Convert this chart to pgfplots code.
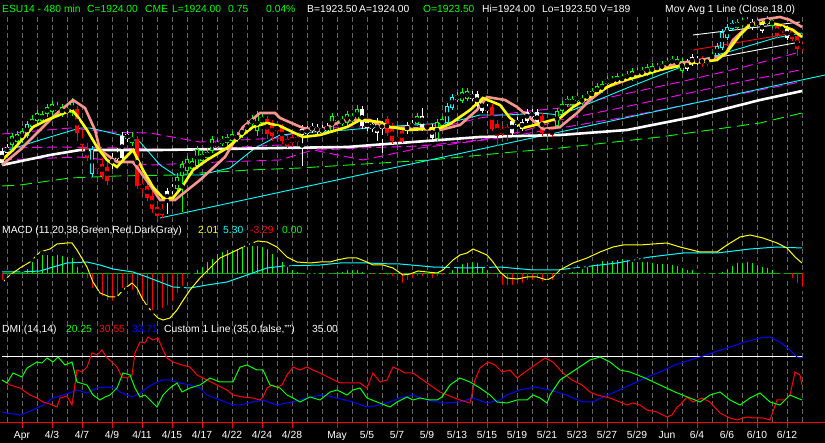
\documentclass[border=0pt]{standalone}
\usepackage{pgfplots}
\pgfplotsset{compat=1.18}
\usepackage{pgfplotstable}
\usepackage{fontspec}
\setmainfont{Liberation Sans}

\definecolor{salmon}{RGB}{250,150,140}
\definecolor{gridgray}{RGB}{100,100,100}
\definecolor{zgreen}{RGB}{0,180,0}
\definecolor{cy}{RGB}{0,255,255}
\definecolor{yl}{RGB}{255,255,0}
\definecolor{mg}{RGB}{255,0,255}
\definecolor{gr}{RGB}{0,255,0}
\definecolor{rd}{RGB}{255,0,0}
\definecolor{bl}{RGB}{0,0,255}

% candles, pixel units of the screen (y grows downward): x, wick top, wick bottom, body top, body bottom
\pgfplotstableread{
x wt wb bt bb
12 133 148 136 145
17 131 145 134 142
22 128 143 131 140
32 115 129 119 127
37 110 124 113 121
42 111 123 114 121
47 104 117 107 114
52 101 115 104 112
57 102 113 106 111
62 104 117 107 115
67 105 115 108 113
72 98 116 102 113
132 132 146 137 143
177 173 193 177 189
182 161 212 164 176
187 156 173 159 171
192 158 171 161 169
197 146 169 149 166
202 150 163 154 161
207 148 161 152 158
212 136 153 139 151
217 139 149 142 147
222 136 146 139 144
227 134 146 137 143
232 131 144 134 141
237 132 142 135 140
242 126 138 129 136
247 120 133 124 131
252 115 128 119 124
257 111 136 115 131
262 113 125 117 123
332 113 133 116 131
337 113 123 116 121
342 116 126 119 124
347 111 126 114 123
352 113 123 116 121
357 105 123 109 121
417 113 126 116 124
437 119 141 122 139
442 116 128 119 126
462 88 103 92 101
467 88 101 91 99
557 108 129 111 126
562 101 113 104 111
567 96 107 99 105
572 96 107 99 105
577 93 103 96 101
582 95 105 98 103
587 91 101 94 99
592 88 99 91 97
597 83 96 86 94
602 81 93 84 91
607 76 86 79 84
612 76 85 79 83
617 73 85 76 83
622 74 83 77 81
627 71 81 74 79
632 68 81 71 79
637 68 77 71 75
642 67 77 70 75
647 64 76 67 74
652 63 75 66 73
657 63 72 66 70
662 61 71 64 69
667 58 68 61 66
672 56 66 59 64
677 56 68 59 66
682 58 73 61 71
712 52 61 55 59
737 19 30 22 28
742 18 27 21 25
747 17 26 20 24
757 18 27 21 25
767 16 26 19 24
772 17 28 20 26
}\greenc

\pgfplotstableread{
x wt wb bt bb
77 106 141 109 133
82 130 151 139 145
87 143 161 149 158
97 158 173 164 169
102 158 179 164 176
107 161 185 167 181
137 136 189 139 186
142 180 193 184 189
147 182 201 186 198
152 191 213 196 209
157 203 219 207 216
162 204 218 209 215
267 116 139 119 134
272 120 141 124 136
277 123 133 126 131
282 124 144 127 141
287 135 148 139 146
292 134 147 137 143
297 133 146 137 142
387 116 136 119 133
392 123 144 127 141
397 134 144 137 142
402 128 143 131 141
427 121 133 124 131
492 104 131 107 129
497 120 146 124 136
502 126 136 129 134
507 124 141 127 132
542 113 136 116 133
547 126 136 129 134
552 127 137 130 135
702 56 67 59 64
707 57 66 60 64
777 23 38 26 36
782 24 33 27 31
792 28 41 31 39
797 33 56 36 49
802 42 51 45 49
}\redc

\pgfplotstableread{
x wt wb bt bb
2 148 166 151 163
7 144 155 147 153
112 153 169 159 164
117 148 161 154 159
122 132 161 136 158
127 131 142 134 139
167 188 214 191 201
172 184 194 187 191
302 125 166 129 135
307 126 136 129 134
312 123 133 126 131
317 124 134 127 132
322 125 135 128 133
327 123 133 126 131
362 106 129 109 126
367 119 131 122 128
372 121 132 124 129
377 118 141 121 133
382 121 153 124 129
407 122 134 125 131
412 120 130 123 128
422 108 131 116 128
432 124 141 127 138
472 91 101 94 99
477 91 108 94 106
482 98 113 101 111
487 104 113 107 111
512 118 136 121 133
517 117 127 120 125
522 119 131 122 129
527 109 123 112 121
532 109 119 112 117
537 109 126 112 124
687 59 71 62 69
692 54 66 57 64
697 56 65 59 63
752 19 30 22 28
762 21 33 24 31
787 26 40 29 38
}\whitec

\pgfplotstableread{
x wt wb bt bb
27 121 138 124 136
92 146 177 149 174
447 103 125 106 123
452 94 110 97 108
457 92 102 95 100
717 43 58 46 56
722 29 50 32 48
727 24 40 27 38
732 20 31 23 29
}\cyanc

% MACD histogram, bar ends (zero line at 273)
\pgfplotstableread{
x y
22 270
27 267
32 260
37 257
42 253
47 253
52 254
57 253
62 254
67 255
72 256
77 265
82 270
197 268
202 265
207 260
212 257
217 252
222 250
227 248
232 248
237 247
242 245
247 245
252 244
257 244
262 245
267 247
272 252
277 255
282 260
287 265
292 268
297 270
302 271
307 272
312 272
317 272
322 271
327 272
332 271
337 270
342 270
347 268
352 268
357 268
362 270
367 272
447 272
452 268
457 265
462 262
467 261
472 260
477 261
482 265
487 268
562 272
567 272
572 270
577 270
582 267
587 265
592 263
597 262
602 259
607 259
612 259
617 258
622 257
627 258
632 260
637 260
642 260
647 260
652 261
657 262
662 262
667 262
672 263
677 264
682 266
687 268
692 268
697 271
702 272
707 272
717 272
722 270
727 267
732 264
737 261
742 261
747 260
752 261
757 263
762 265
767 266
772 268
777 271
}\histup

\pgfplotstableread{
x y
2 282
7 280
12 276
87 280
92 290
97 293
102 298
107 302
112 303
117 298
122 290
127 289
132 292
137 297
142 303
147 307
152 312
157 312
162 310
167 307
172 303
177 295
182 288
187 280
192 275
372 276
377 275
382 276
387 277
392 278
397 282
402 285
407 282
412 280
417 278
422 278
427 280
432 280
437 278
442 277
492 276
497 280
502 287
507 287
512 287
517 286
522 285
527 282
532 282
537 280
542 283
547 282
552 282
557 276
782 275
787 276
792 280
797 285
802 289
}\histdn

\begin{document}
\begin{tikzpicture}[lab/.style={font=\fontsize{10.3}{12}\selectfont, inner sep=0pt}]
\fill[black] (0,0) rectangle (825pt,443pt);
\begin{axis}[at={(0pt,0pt)}, anchor=south west,
  width=825pt, height=443pt, scale only axis,
  xmin=0, xmax=825, ymin=0, ymax=443, y dir=reverse,
  hide axis,
  wick/.style={only marks, mark=none, error bars/.cd, y dir=both, y explicit, error mark=none,
    error bar style={#1, line width=1pt}},
  body/.style={only marks, mark=none, error bars/.cd, y dir=both, y explicit, error mark=none,
    error bar style={#1, line width=4.2pt}},
  hollow/.style={only marks, mark=none, error bars/.cd, y dir=both, y explicit, error mark=none,
    error bar style={black, line width=2.2pt}}]

% day grid
\pgfplotsinvokeforeach{7,22,...,802}{
  \addplot[gridgray, line width=0.8pt, dash pattern=on 5pt off 3pt] coordinates {(#1,17) (#1,422)};
}

% ---------- price panel ----------
\addplot[gr, line width=0.9pt, dash pattern=on 12pt off 6pt] coordinates {
(2,186)(20,185)(70,178)(117,176)(175,175)(200,173)(250,170)(300,168)(430,160)(513,152)(560,148)(660,137)(760,123)(802,113)};
\addplot[mg, line width=0.9pt, dash pattern=on 10pt off 5pt] coordinates {
(2,134)(70,128)(110,132)(150,133)(200,142)(240,140)(280,138)(300,130)(350,127)(400,127)(450,125)(480,118)(520,112)(560,108)(620,95)(680,82)(740,68)(800,52)};
\addplot[mg, line width=0.9pt, dash pattern=on 10pt off 5pt] coordinates {
(2,148)(60,147)(120,148)(180,150)(240,147)(280,145)(320,150)(360,148)(420,146)(480,140)(520,132)(560,120)(620,108)(680,95)(740,82)(800,70)};
\addplot[mg, line width=0.9pt, dash pattern=on 10pt off 5pt] coordinates {
(2,160)(80,157)(150,165)(220,162)(280,160)(313,150)(363,160)(420,148)(500,138)(560,128)(620,118)(680,106)(740,94)(800,82)};
\addplot[cy, line width=0.9pt] coordinates {(160,218)(825,75)};
\addplot[cy, line width=0.9pt] coordinates {
(2,152)(40,140)(80,128)(90,128)(120,135)(140,142)(160,165)(175,175)(200,175)(230,168)(255,148)(280,135)(313,132)(347,130)(380,127)(413,125)(447,123)(460,120)(480,115)(507,115)(540,113)(560,115)(593,102)(627,88)(660,75)(700,60)(745,47)(775,38)(802,33)};
\addplot[white, line width=2.6pt] coordinates {
(2,165)(50,155)(80,150)(100,150)(160,150)(280,148)(347,147)(413,142)(480,137)(560,135)(627,130)(693,117)(760,100)(802,91)};
\addplot[white, line width=0.9pt] coordinates {(693,35)(800,22)};
\addplot[rd, line width=0.9pt] coordinates {(693,50)(800,32)};
\addplot[white, line width=0.9pt] coordinates {(720,57)(800,42)};

% candles
\addplot[wick=gr] table[x=x, y expr={(\thisrow{wt}+\thisrow{wb})/2}, y error expr={(\thisrow{wb}-\thisrow{wt})/2}] {\greenc};
\addplot[body=gr] table[x=x, y expr={(\thisrow{bt}+\thisrow{bb})/2}, y error expr={(\thisrow{bb}-\thisrow{bt})/2}] {\greenc};
\addplot[hollow] table[x=x, y expr={(\thisrow{bt}+\thisrow{bb})/2}, y error expr={max((\thisrow{bb}-\thisrow{bt})/2-1,0)}] {\greenc};
\addplot[wick=rd] table[x=x, y expr={(\thisrow{wt}+\thisrow{wb})/2}, y error expr={(\thisrow{wb}-\thisrow{wt})/2}] {\redc};
\addplot[body=rd] table[x=x, y expr={(\thisrow{bt}+\thisrow{bb})/2}, y error expr={(\thisrow{bb}-\thisrow{bt})/2}] {\redc};
\addplot[wick=white] table[x=x, y expr={(\thisrow{wt}+\thisrow{wb})/2}, y error expr={(\thisrow{wb}-\thisrow{wt})/2}] {\whitec};
\addplot[body=white] table[x=x, y expr={(\thisrow{bt}+\thisrow{bb})/2}, y error expr={(\thisrow{bb}-\thisrow{bt})/2}] {\whitec};
\addplot[wick=cy] table[x=x, y expr={(\thisrow{wt}+\thisrow{wb})/2}, y error expr={(\thisrow{wb}-\thisrow{wt})/2}] {\cyanc};
\addplot[body=cy] table[x=x, y expr={(\thisrow{bt}+\thisrow{bb})/2}, y error expr={(\thisrow{bb}-\thisrow{bt})/2}] {\cyanc};
\addplot[hollow] table[x=x, y expr={(\thisrow{bt}+\thisrow{bb})/2}, y error expr={max((\thisrow{bb}-\thisrow{bt})/2-1,0)}] {\cyanc};

% moving averages
\addplot[salmon, line width=2.6pt] coordinates {
(2,165)(20,150)(40,130)(55,115)(73,100)(85,108)(95,130)(100,150)(117,162)(133,162)(150,185)(160,200)(175,200)(200,180)(225,157)(243,127)(260,113)(275,113)(280,118)(303,128)(320,130)(345,120)(370,120)(383,127)(410,128)(440,130)(460,125)(477,110)(487,97)(505,100)(517,107)(530,118)(543,129)(560,127)(577,113)(590,100)(607,87)(627,80)(650,70)(680,63)(713,58)(725,55)(733,40)(747,27)(760,20)(780,17)(790,20)(802,27)};
\addplot[yl, line width=2.6pt] coordinates {
(2,160)(13,150)(33,127)(47,120)(67,112)(72,110)(78,117)(87,130)(97,147)(107,160)(117,167)(125,158)(133,150)(143,170)(153,187)(163,198)(173,198)(182,187)(193,170)(207,160)(227,148)(240,137)(253,127)(267,123)(280,126)(303,137)(320,135)(347,127)(360,120)(380,122)(390,127)(410,130)(440,128)(450,124)(470,110)(483,98)(500,105)(510,118)(523,128)(535,125)(545,122)(560,118)(573,107)(593,95)(617,82)(637,77)(660,70)(693,63)(717,60)(727,52)(740,35)(750,25)(767,22)(780,25)(793,30)(802,37)};

% ---------- MACD panel ----------
\addplot[zgreen, line width=0.9pt] coordinates {(2,273)(802,273)};
\addplot[only marks, mark=none, error bars/.cd, y dir=plus, y explicit, error mark=none,
  error bar style={gr, line width=1pt}]
  table[x=x, y=y, y error expr={273-\thisrow{y}}] {\histup};
\addplot[only marks, mark=none, error bars/.cd, y dir=minus, y explicit, error mark=none,
  error bar style={rd, line width=1pt}]
  table[x=x, y=y, y error expr={\thisrow{y}-273}] {\histdn};
\addplot[cy, line width=1pt] coordinates {
(2,272)(20,272)(40,271)(53,267)(67,263)(87,262)(100,265)(113,269)(133,272)(147,277)(160,282)(173,287)(190,288)(207,285)(227,282)(247,275)(267,268)(283,266)(320,265)(340,263)(367,263)(393,264)(400,264)(433,267)(467,268)(500,267)(533,270)(557,270)(583,267)(617,263)(650,257)(683,253)(717,253)(750,249)(777,247)(802,248)};
\addplot[yl, line width=1pt] coordinates {
(2,283)(10,275)(20,268)(30,262)(40,252)(50,249)(57,244)(67,243)(72,243)(77,250)(87,267)(93,282)(100,293)(110,297)(117,297)(123,290)(132,283)(137,288)(143,300)(148,307)(153,313)(158,318)(163,320)(170,318)(177,310)(182,302)(190,290)(200,278)(210,268)(220,258)(233,252)(247,245)(258,241)(267,242)(277,247)(287,257)(297,262)(310,263)(320,262)(330,262)(337,260)(347,258)(357,258)(367,262)(373,265)(383,265)(393,268)(403,275)(410,274)(418,271)(427,272)(437,273)(443,270)(453,260)(460,255)(467,253)(473,249)(480,252)(487,255)(493,262)(500,272)(507,278)(517,279)(527,277)(537,277)(547,280)(553,277)(560,270)(573,263)(587,258)(600,252)(613,247)(623,245)(640,245)(653,244)(667,243)(680,247)(700,252)(717,252)(727,245)(740,237)(750,235)(763,238)(777,243)(787,248)(795,257)(802,263)};

% ---------- DMI panel ----------
\addplot[white, line width=1pt] coordinates {(2,357)(802,357)};
\addplot[bl, line width=1pt] coordinates {
(2,412)(7,413)(20,415)(33,410)(43,405)(53,398)(63,395)(72,392)(77,390)(87,393)(97,388)(107,387)(115,388)(120,392)(132,397)(140,393)(148,387)(157,382)(163,380)(170,380)(180,383)(190,385)(200,388)(207,395)(220,400)(233,405)(240,405)(253,402)(263,400)(277,405)(287,403)(293,402)(310,397)(323,395)(337,398)(353,402)(367,407)(380,405)(390,402)(400,398)(413,395)(427,400)(443,403)(460,402)(473,398)(487,403)(500,400)(507,395)(520,390)(535,387)(550,390)(560,393)(567,395)(573,398)(583,402)(593,402)(603,397)(615,392)(630,385)(645,378)(660,372)(675,365)(690,360)(700,357)(715,352)(730,347)(745,342)(760,338)(770,337)(780,342)(790,350)(797,357)(802,358)};
\addplot[rd, line width=1pt] coordinates {
(2,380)(10,385)(20,388)(30,395)(37,398)(43,402)(50,404)(57,407)(60,398)(67,396)(72,405)(77,370)(82,372)(87,367)(92,353)(97,355)(102,350)(107,358)(112,362)(117,367)(122,377)(127,378)(132,375)(135,353)(140,342)(145,343)(148,337)(153,340)(158,338)(163,350)(167,358)(173,362)(182,365)(190,367)(197,375)(207,380)(217,385)(227,390)(233,395)(243,397)(253,398)(260,400)(263,397)(267,388)(272,385)(277,387)(282,385)(287,375)(293,367)(300,370)(307,367)(313,370)(320,373)(330,378)(340,383)(353,383)(360,383)(367,388)(373,373)(380,382)(387,380)(393,367)(400,370)(405,373)(413,373)(420,378)(430,385)(440,392)(447,395)(460,400)(470,403)(475,380)(480,368)(488,362)(495,365)(502,372)(510,370)(517,378)(525,372)(535,365)(545,358)(553,362)(562,372)(572,380)(582,385)(590,392)(597,395)(610,398)(620,402)(627,405)(633,403)(640,405)(647,410)(657,412)(667,417)(672,415)(677,407)(680,405)(687,397)(693,402)(702,398)(710,402)(720,413)(730,418)(737,420)(743,418)(748,417)(753,418)(763,418)(770,420)(777,400)(785,400)(790,395)(795,372)(800,375)(802,385)};
\addplot[gr, line width=1pt] coordinates {
(2,380)(7,383)(13,373)(22,377)(27,368)(37,362)(42,363)(47,358)(53,362)(58,357)(65,365)(72,362)(77,382)(87,385)(93,395)(100,400)(105,397)(110,395)(117,388)(123,373)(130,375)(135,388)(140,397)(145,395)(150,400)(157,407)(163,395)(170,388)(177,383)(182,392)(190,388)(200,385)(210,378)(220,382)(233,382)(240,367)(247,365)(257,370)(263,370)(270,385)(280,388)(287,395)(293,398)(300,402)(310,397)(320,400)(330,392)(337,390)(347,395)(353,390)(360,388)(367,398)(377,402)(390,407)(397,402)(407,397)(413,400)(420,398)(430,400)(437,400)(442,397)(450,385)(460,378)(470,382)(480,388)(490,395)(497,402)(507,403)(517,400)(527,400)(533,395)(540,398)(547,403)(550,395)(560,380)(575,370)(590,360)(600,357)(610,362)(620,370)(630,372)(645,378)(660,385)(675,392)(690,398)(700,402)(710,395)(720,392)(730,400)(740,405)(750,398)(760,393)(770,402)(780,405)(790,395)(797,398)(802,400)};

% ---------- time axis ----------
\addplot[rd, line width=1pt] coordinates {(0,423)(825,423)};
\pgfplotsinvokeforeach{22,52,...,292,337,367,...,787}{
  \addplot[rd, line width=1pt] coordinates {(#1,423) (#1,428)};
}

% ---------- texts ----------
\node[lab, anchor=base west, text=gr] at (axis cs:2,13) {ESU14 - 480 min};
\node[lab, anchor=base west, text=gr] at (axis cs:87,13) {C=1924.00};
\node[lab, anchor=base west, text=gr] at (axis cs:145,13) {CME};
\node[lab, anchor=base west, text=gr] at (axis cs:172,13) {L=1924.00};
\node[lab, anchor=base west, text=gr] at (axis cs:228,13) {0.75};
\node[lab, anchor=base west, text=gr] at (axis cs:266,13) {0.04\%};
\node[lab, anchor=base west, text=white] at (axis cs:307,13) {B=1923.50};
\node[lab, anchor=base west, text=white] at (axis cs:359,13) {A=1924.00};
\node[lab, anchor=base west, text=gr] at (axis cs:423,13) {O=1923.50};
\node[lab, anchor=base west, text=white] at (axis cs:482,13) {Hi=1924.00};
\node[lab, anchor=base west, text=white] at (axis cs:542,13) {Lo=1923.50};
\node[lab, anchor=base west, text=white] at (axis cs:600,13) {V=189};
\node[lab, anchor=base west, text=white] at (axis cs:665,13) {Mov Avg 1 Line (Close,18,0)};

\node[lab, anchor=base west, text=white] at (axis cs:2,234) {MACD (11,20,38,Green,Red,DarkGray)};
\node[lab, anchor=base west, text=yl] at (axis cs:198,234) {2.01};
\node[lab, anchor=base west, text=cy] at (axis cs:223,234) {5.30};
\node[lab, anchor=base west, text=rd] at (axis cs:250,234) {-3.29};
\node[lab, anchor=base west, text=gr] at (axis cs:282,234) {0.00};

\node[lab, anchor=base west, text=white] at (axis cs:2,333) {DMI (14,14)};
\node[lab, anchor=base west, text=gr] at (axis cs:66,333) {20.25};
\node[lab, anchor=base west, text=rd] at (axis cs:99,333) {30.55};
\node[lab, anchor=base west, text=bl] at (axis cs:132,333) {33.71};
\node[lab, anchor=base west, text=white] at (axis cs:164,333) {Custom 1 Line (35,0,false,"")};
\node[lab, anchor=base west, text=white] at (axis cs:312,333) {35.00};

\node[lab, anchor=base, text=white] at (axis cs:22,439) {Apr};
\node[lab, anchor=base, text=white] at (axis cs:52,439) {4/3};
\node[lab, anchor=base, text=white] at (axis cs:82,439) {4/7};
\node[lab, anchor=base, text=white] at (axis cs:112,439) {4/9};
\node[lab, anchor=base, text=white] at (axis cs:142,439) {4/11};
\node[lab, anchor=base, text=white] at (axis cs:172,439) {4/15};
\node[lab, anchor=base, text=white] at (axis cs:202,439) {4/17};
\node[lab, anchor=base, text=white] at (axis cs:232,439) {4/22};
\node[lab, anchor=base, text=white] at (axis cs:262,439) {4/24};
\node[lab, anchor=base, text=white] at (axis cs:292,439) {4/28};
\node[lab, anchor=base, text=white] at (axis cs:337,439) {May};
\node[lab, anchor=base, text=white] at (axis cs:367,439) {5/5};
\node[lab, anchor=base, text=white] at (axis cs:397,439) {5/7};
\node[lab, anchor=base, text=white] at (axis cs:427,439) {5/9};
\node[lab, anchor=base, text=white] at (axis cs:457,439) {5/13};
\node[lab, anchor=base, text=white] at (axis cs:487,439) {5/15};
\node[lab, anchor=base, text=white] at (axis cs:517,439) {5/19};
\node[lab, anchor=base, text=white] at (axis cs:547,439) {5/21};
\node[lab, anchor=base, text=white] at (axis cs:577,439) {5/23};
\node[lab, anchor=base, text=white] at (axis cs:607,439) {5/27};
\node[lab, anchor=base, text=white] at (axis cs:637,439) {5/29};
\node[lab, anchor=base, text=white] at (axis cs:667,439) {Jun};
\node[lab, anchor=base, text=white] at (axis cs:697,439) {6/4};
\node[lab, anchor=base, text=white] at (axis cs:727,439) {6/6};
\node[lab, anchor=base, text=white] at (axis cs:757,439) {6/10};
\node[lab, anchor=base, text=white] at (axis cs:787,439) {6/12};
\end{axis}
\end{tikzpicture}
\end{document}
